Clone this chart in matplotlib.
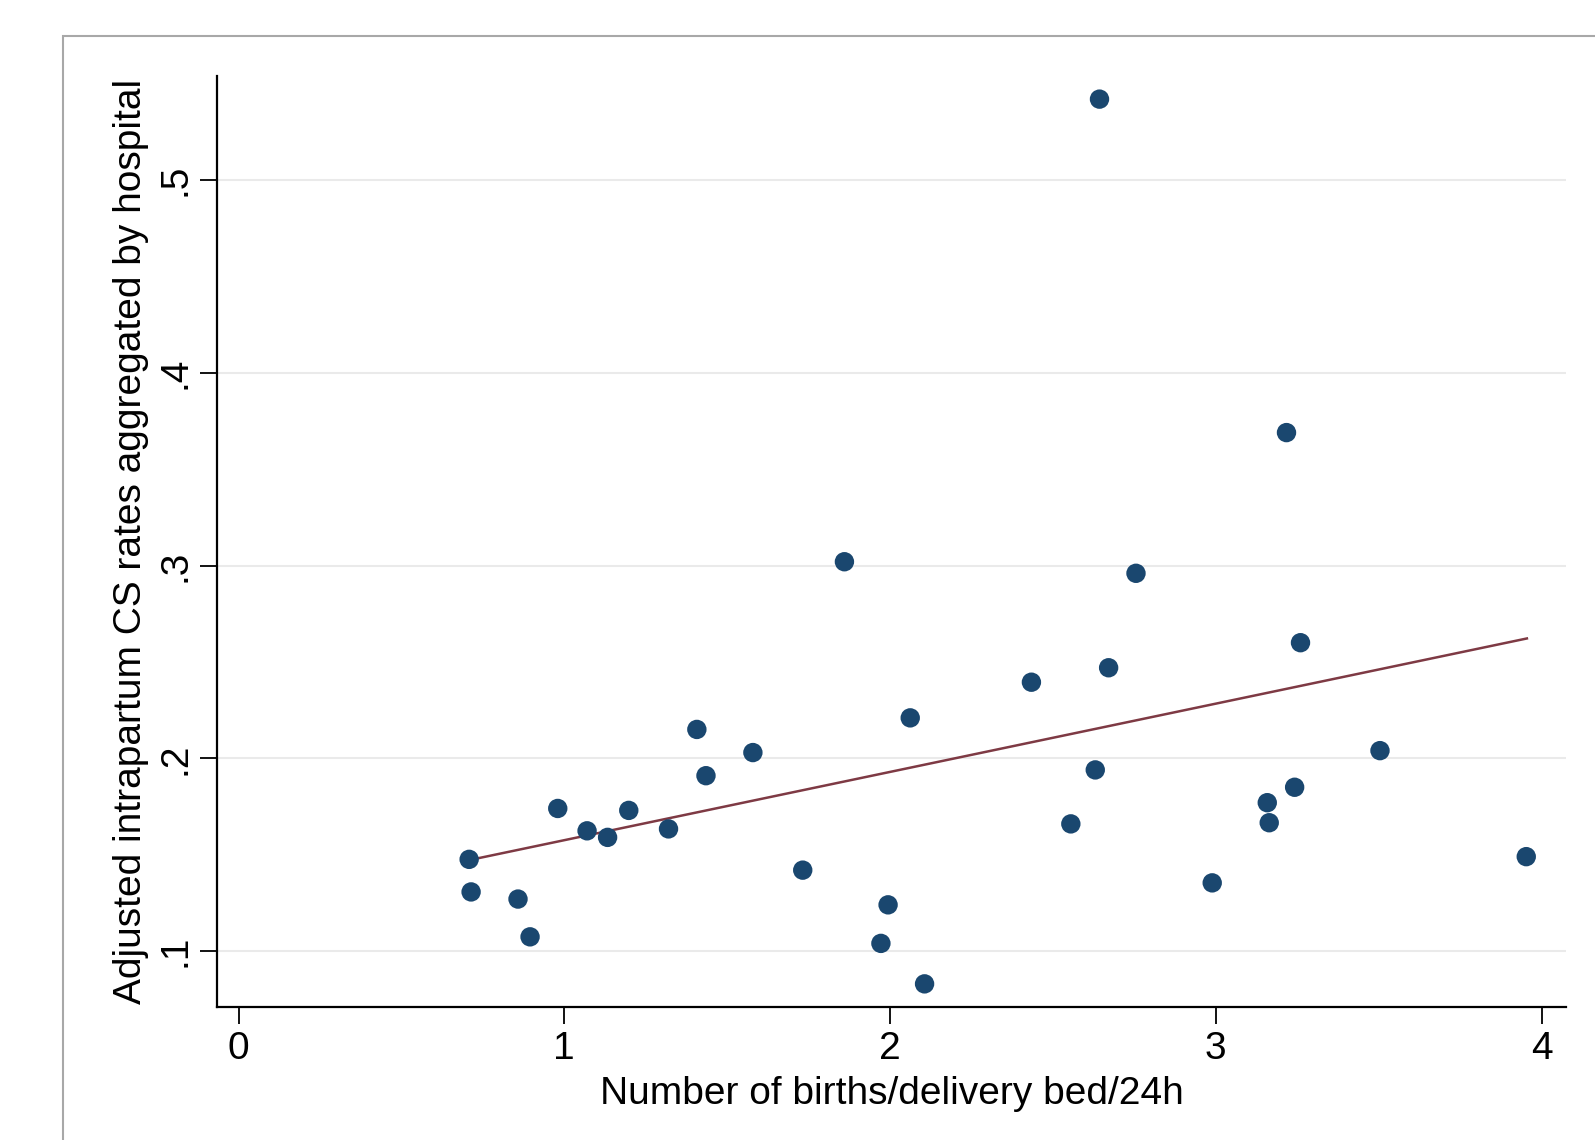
import numpy as np
import matplotlib
matplotlib.use("Agg")
import matplotlib.pyplot as plt
from matplotlib.patches import Rectangle

births_per_bed = [0.708, 0.714, 0.858, 0.895, 0.980, 1.070, 1.133, 1.198, 1.320,
                  1.407, 1.435, 1.579, 1.732, 1.860, 1.972, 1.994, 2.062, 2.106,
                  2.434, 2.555, 2.630, 2.643, 2.671, 2.755, 2.989, 3.158, 3.164,
                  3.217, 3.242, 3.260, 3.504, 3.953]
cs_rate = [0.1476, 0.1307, 0.127, 0.1074, 0.174, 0.1624, 0.159, 0.173, 0.1634,
           0.215, 0.191, 0.203, 0.142, 0.302, 0.104, 0.124, 0.221, 0.083,
           0.2395, 0.166, 0.194, 0.542, 0.247, 0.296, 0.1354, 0.177, 0.1666,
           0.369, 0.185, 0.260, 0.204, 0.149]

# fitted line endpoints
fit_x = [0.708, 3.955]
fit_y = [0.1472, 0.2622]

x_ticks = [0, 1, 2, 3, 4]
x_tick_labels = ["0", "1", "2", "3", "4"]
y_ticks = [0.1, 0.2, 0.3, 0.4, 0.5]
y_tick_labels = [".1", ".2", ".3", ".4", ".5"]

plt.rcParams['font.family'] = ['Liberation Sans', 'DejaVu Sans']

W, H = 1595, 1140
fig = plt.figure(figsize=(W / 100, H / 100), dpi=100)
fig.patch.set_facecolor("white")

# outer graph region frame (cropped at right/bottom)
fig.patches.append(Rectangle((63 / W, -0.05), 1.2, (1140 - 36) / H + 0.05,
                             transform=fig.transFigure, facecolor="none",
                             edgecolor="#a8a8a8", linewidth=1.5, zorder=-1))

ax = fig.add_axes([217 / W, 133 / H, (1566 - 217) / W, (1007 - 76) / H])
ax.set_facecolor("none")

for yt in y_ticks:
    ax.axhline(yt, color="#eaeaea", linewidth=1.5, zorder=1)

ax.scatter(births_per_bed, cs_rate, s=195, color="#1a476f", edgecolors="none", zorder=3)
ax.plot(fit_x, fit_y, color="#7e3a44", linewidth=1.8, zorder=2)

ax.set_xlim(-0.066, 4.075)
ax.set_ylim(0.071, 0.554)

ax.set_xticks(x_ticks)
ax.set_xticklabels(x_tick_labels)
ax.set_yticks(y_ticks)
ax.set_yticklabels(y_tick_labels, rotation=90, va="center")

for s in ["top", "right"]:
    ax.spines[s].set_visible(False)
for s in ["left", "bottom"]:
    ax.spines[s].set_linewidth(1.6)
    ax.spines[s].set_color("black")

ax.tick_params(axis="both", direction="out", length=12, width=1.3,
               labelsize=28, colors="black", pad=5)

ax.set_xlabel("Number of births/delivery bed/24h", fontsize=28, labelpad=7)
ax.set_ylabel("Adjusted intrapartum CS rates aggregated by hospital", fontsize=28,
              labelpad=6)

fig.savefig("out.png", dpi=100, facecolor="white")
